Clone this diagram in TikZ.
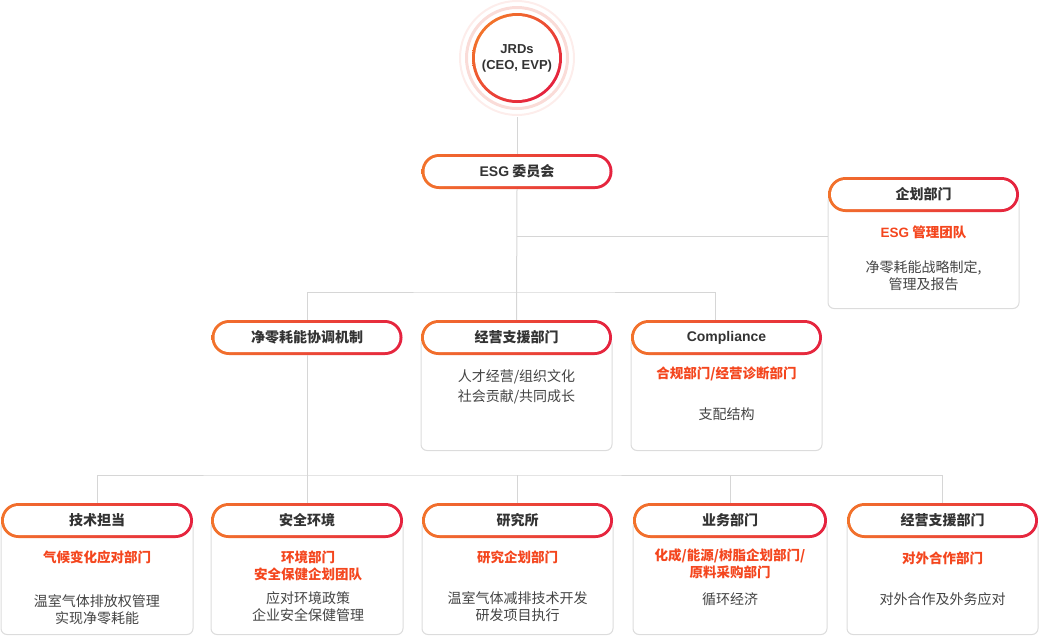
\documentclass[tikz,border=0pt]{standalone}
\usepackage{fontspec}
\setmainfont{Noto Sans CJK SC}
\newfontfamily\latin{Liberation Sans}
\usetikzlibrary{positioning}

\definecolor{pillorange}{HTML}{F2732B}
\definecolor{pillred}{HTML}{E5223F}
\definecolor{headtxt}{HTML}{333333}
\definecolor{depttxt}{HTML}{F4461E}
\definecolor{dutytxt}{HTML}{444444}
\definecolor{linegray}{HTML}{D6D6D6}
\definecolor{boxgray}{HTML}{DCDCDC}
\definecolor{ringpink}{HTML}{FADCD8}
\definecolor{ringpale}{HTML}{FDEDEB}

\tikzset{
  pill/.style={minimum width=191pt, minimum height=35pt, inner sep=0pt,
    rounded corners=17.5pt, fill=white, text=headtxt,
    font=\fontsize{14}{17}\selectfont\bfseries,
    path picture={
      \shade[left color=pillorange, right color=pillred]
        (path picture bounding box.south west) rectangle (path picture bounding box.north east);
      \fill[white, rounded corners=14.5pt]
        ([shift={(3pt,-3pt)}]path picture bounding box.north west) rectangle
        ([shift={(-3pt,3pt)}]path picture bounding box.south east);
    }},
  topcircle/.style={circle, minimum size=90pt, inner sep=0pt, fill=white,
    align=center, text=headtxt, font=\latin\fontsize{13}{16}\selectfont\bfseries,
    path picture={
      \shade[left color=pillorange, right color=pillred, shading angle=45]
        (path picture bounding box.south west) rectangle (path picture bounding box.north east);
      \fill[white] (path picture bounding box.center) circle (42pt);
    }},
  bodybox/.style={draw=boxgray, fill=white, line width=1pt, rounded corners=6pt,
    minimum width=191pt, inner sep=0pt, anchor=north},
  dept/.style={text=depttxt, align=center, font=\fontsize{13.5}{17}\selectfont\bfseries},
  duty/.style={text=dutytxt, align=center, font=\fontsize{14}{17}\selectfont},
  link/.style={draw=linegray, line width=1pt},
}

\begin{document}
\begin{tikzpicture}[x=1pt, y=-1pt]
\useasboundingbox (0,0) rectangle (1039,635);

% top
\node[topcircle] (j) at (517,58) {JRDs\\(CEO, EVP)};
\draw[ringpink, line width=3pt] (j.center) circle (50.5pt);
\draw[ringpale, line width=2pt] (j.center) circle (57pt);
\node[pill] (esg) at (517,171.5) {{\latin ESG} 委员会};

% planning team
\node[bodybox, minimum height=113.5pt] (planbody) at (923.5,194.5) {};
\node[pill] (plan) at (923.5,194.5) {企划部门};
\node[dept] (plandept) at (923.5,232) {{\latin ESG} 管理团队};
\node[duty] (planduty) at (923.5,276) {净零耗能战略制定,\\管理及报告};

% middle row
\node[pill] (net) at (307,337.5) {净零耗能协调机制};
\node[bodybox, minimum height=112.5pt] (mgmtbody) at (516.5,337.5) {};
\node[pill] (mgmt) at (516.5,337.5) {经营支援部门};
\node[duty] (mgmtduty) at (516.5,387) {人才经营/组织文化\\[3pt]社会贡献/共同成长};
\node[bodybox, minimum height=112.5pt] (compbody) at (726.5,337.5) {};
\node[pill] (comp) at (726.5,337.5) {{\latin Compliance}};
\node[dept] (compdept) at (726.5,374) {合规部门/经营诊断部门};
\node[duty] (compduty) at (726.5,414) {支配结构};

% bottom row
\node[bodybox, minimum width=192pt, minimum height=113.5pt] (techbody) at (97,520.5) {};
\node[pill, minimum width=192pt] (tech) at (97,520.5) {技术担当};
\node[dept] (techdept) at (97,557) {气候变化应对部门};
\node[duty] (techduty) at (97,610) {温室气体排放权管理\\实现净零耗能};

\node[bodybox, minimum width=192pt, minimum height=113.5pt] (safebody) at (307,520.5) {};
\node[pill, minimum width=192pt] (safe) at (307,520.5) {安全环境};
\node[dept] (safedept) at (308,566) {环境部门\\安全保健企划团队};
\node[duty] (safeduty) at (308,607) {应对环境政策\\企业安全保健管理};

\node[bodybox, minimum height=113.5pt] (labbody) at (517.5,520.5) {};
\node[pill] (lab) at (517.5,520.5) {研究所};
\node[dept] (labdept) at (517.5,557) {研究企划部门};
\node[duty] (labduty) at (517.5,607) {温室气体减排技术开发\\研发项目执行};

\node[bodybox, minimum width=194pt, minimum height=113.5pt] (bizbody) at (730,520.5) {};
\node[pill, minimum width=194pt] (biz) at (730,520.5) {业务部门};
\node[dept] (bizdept) at (730,564) {化成/能源/树脂企划部门/\\原料采购部门};
\node[duty] (bizduty) at (730,599) {循环经济};

\node[bodybox, minimum height=113.5pt] (coopbody) at (942.5,520.5) {};
\node[pill] (coop) at (942.5,520.5) {经营支援部门};
\node[dept] (coopdept) at (942.5,558) {对外合作部门};
\node[duty] (coopduty) at (942.5,599) {对外合作及外务应对};

% connectors
\coordinate (planjoin) at (517,236);
\coordinate (midbus) at (517,292);
\coordinate (compdrop) at (715,320);
\coordinate (lowbus) at (307,475);
\draw[link] ([yshift=-14pt]j.south) -- (esg.north);
\draw[link] (esg.south) -- (mgmt.north);
\draw[link] (planjoin) -- (planjoin -| planbody.west);
\draw[link] (net.north) |- (midbus) -| (compdrop);
\draw[link] (net.south) -- (safe.north);
\draw[link] (tech.north) |- (lowbus) -| (coop.north);
\draw[link] (lab.north) -- (lab.north |- lowbus);
\draw[link] (biz.north) -- (biz.north |- lowbus);
\end{tikzpicture}
\end{document}
